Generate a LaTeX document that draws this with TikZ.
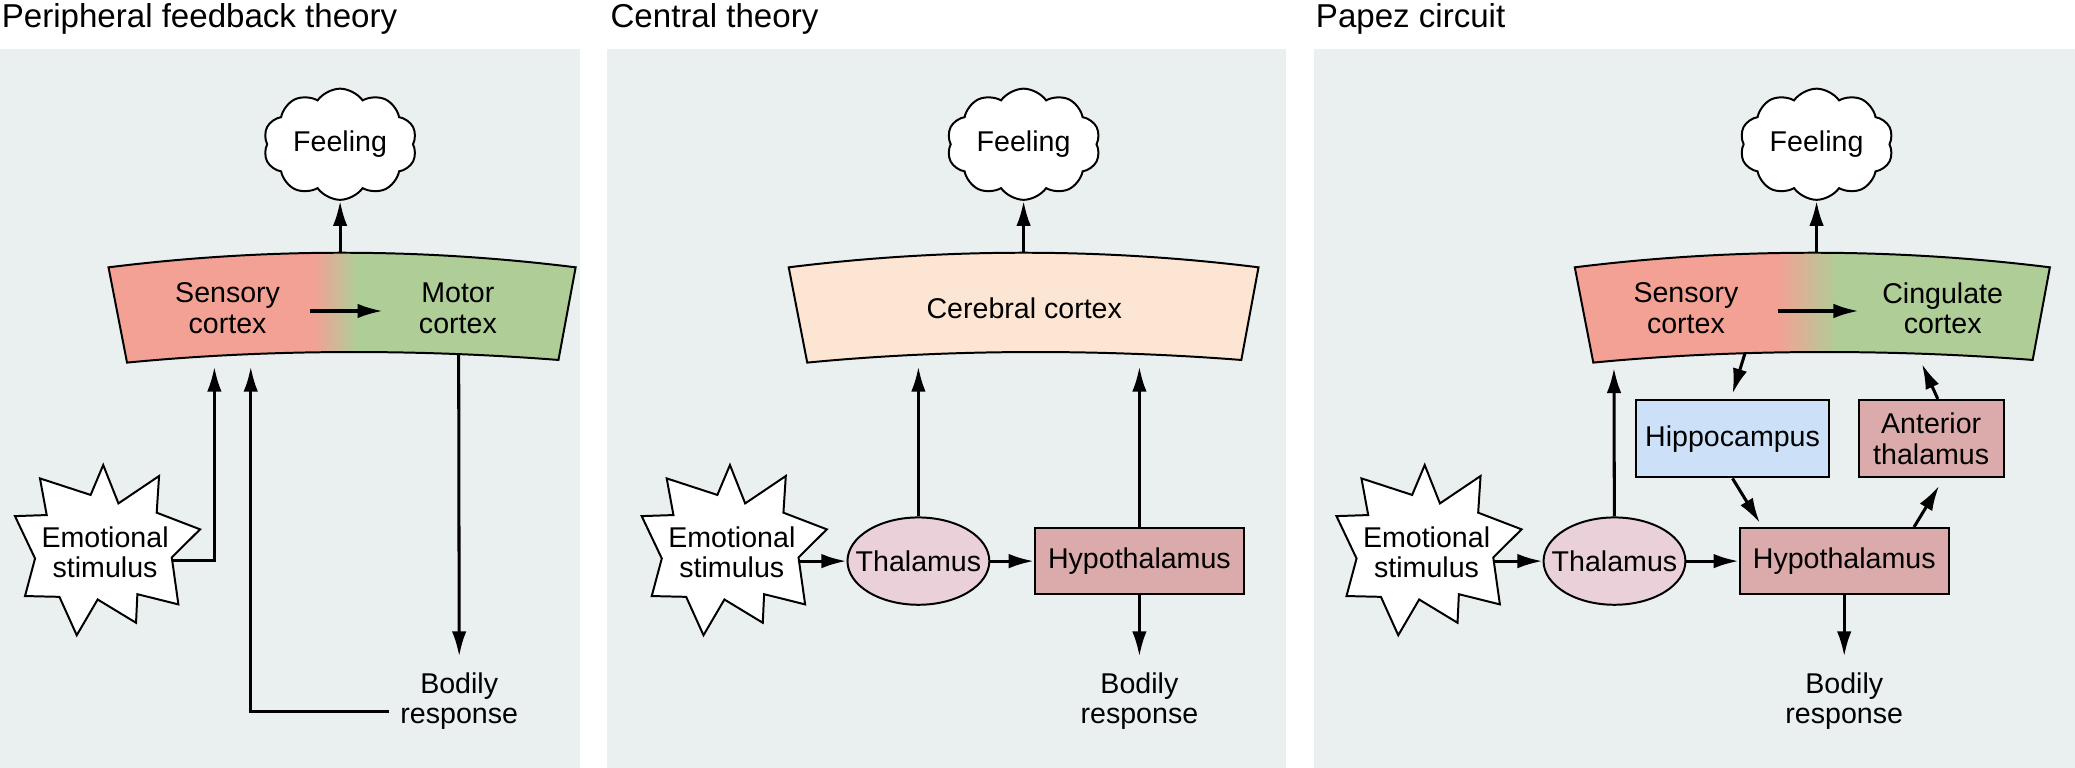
\documentclass[tikz,border=0pt]{standalone}
\usepackage{fontspec}
\setmainfont{Liberation Sans}
\usetikzlibrary{arrows.meta,shapes.geometric,shapes.symbols}

\definecolor{panelbg}{HTML}{EAF0F0}
\definecolor{sensred}{HTML}{F3A195}
\definecolor{motgreen}{HTML}{AFCD96}
\definecolor{cerebral}{HTML}{FDE5D3}
\definecolor{thalpink}{HTML}{EAD0D8}
\definecolor{hypored}{HTML}{DBAAAA}
\definecolor{hippoblue}{HTML}{CCE0F8}

\newcommand{\labelfont}{\fontsize{10.8}{11.5}\selectfont}
\newcommand{\tight}[1]{\makebox[0pt]{#1}}

% band shaped cortex, left and right top corners
\newcommand{\cortex}[2]{(#1,202) .. controls ({#1+118},187.3) and ({#2-118},187.3) .. (#2,202)
  -- ({#2-13},272) .. controls ({#2-120},263.7) and ({#1+120},263.7) .. ({#1+14},274) -- cycle}

% emotional stimulus star round a centre
\newcommand{\burst}[1]{%
  \draw[burstline, shift={(#1)}] (-1.4,-66.1) -- (10.1,-37.1) -- (40.8,-57.8) -- (39,-30.1)
    -- (71.8,-17.5) -- (50.4,3.7) -- (55.4,39.2) -- (24.4,31.5) -- (23.4,53.1) -- (-5.6,35.5)
    -- (-21.4,62.5) -- (-34.5,33.5) -- (-60.5,32.9) -- (-52.9,4.5) -- (-68.1,-27.5)
    -- (-44.1,-28.3) -- (-49.2,-56) -- (-10.9,-43.5) -- cycle;}

\tikzset{
  arr/.style={line width=1.15pt, -{Latex[length=9.5pt,width=5.5pt]}},
  outline/.style={draw=black, line width=0.75pt},
  burstline/.style={outline, fill=white},
  lbl/.style={align=center, font=\labelfont, inner sep=1pt},
  body/.style={lbl, inner ysep=6pt},
  title/.style={anchor=base west, inner sep=0pt, font=\fontsize{12.5}{14}\selectfont},
  feel/.style={cloud, cloud puffs=10, cloud puff arc=110, aspect=1.4, outline, fill=white,
    minimum width=58pt, minimum height=42pt, inner sep=0pt, font=\labelfont},
  thal/.style={ellipse, outline, fill=thalpink, minimum width=53.6pt, minimum height=33pt,
    inner sep=0pt, font=\labelfont},
  hypo/.style={rectangle, outline, fill=hypored, minimum width=79pt, minimum height=25pt,
    inner sep=0pt, font=\labelfont},
  hippo/.style={rectangle, outline, fill=hippoblue, minimum width=72.8pt, minimum height=29.3pt,
    inner sep=0pt, font=\labelfont},
  ant/.style={rectangle, outline, fill=hypored, minimum width=54.8pt, minimum height=29.3pt,
    inner sep=0pt, align=center, font=\labelfont},
}

\begin{document}
\begin{tikzpicture}[x=0.5pt, y=-0.5pt]
  \useasboundingbox (0,0) rectangle (1568,580);
  \foreach \xa/\xb in {0/438, 459/972, 993/1568}
    \fill[panelbg] (\xa,37) rectangle (\xb,580);

  % Peripheral feedback theory
  \node[title] (tA) at (1,21) {Peripheral feedback theory};
  \begin{scope}
    \clip \cortex{82}{435};
    \fill[sensred] (70,180) rectangle (238,290);
    \shade[left color=sensred, right color=motgreen] (237,180) rectangle (270,290);
    \fill[motgreen] (269,180) rectangle (450,290);
  \end{scope}
  \draw[outline] \cortex{82}{435};
  \node[feel] (feelA) at (257,109) {\tight{Feeling}};
  \coordinate (ctopA) at (257,191);
  \node[lbl] (senA) at (172,233) {Sensory\\cortex};
  \node[lbl] (motA) at (346,233) {Motor\\cortex};
  \coordinate (stA) at (79.4,417.5);
  \burst{stA}
  \node[lbl] (stimA) at (stA) {Emotional\\stimulus};
  \node[body] (bodyA) at (347,530) {Bodily\\response};
  \coordinate (inA) at (162,277);
  \coordinate (fbA) at (189.5,277);
  \coordinate (outA) at (346.6,268);

  \draw[arr] (ctopA) -- (feelA.south);
  \draw[arr] ([xshift=10.3pt,yshift=-1pt]senA.east) -- ([xshift=-12.5pt,yshift=-1pt]motA.west);
  \draw[arr] ([yshift=-3pt]stimA.east) -| (inA);
  \draw[arr] ([xshift=-3pt,yshift=-4pt]bodyA.west) -| (fbA);
  \draw[arr] (outA) -- (bodyA.north);

  % Central theory
  \node[title] (tB) at (461,21) {Central theory};
  \filldraw[outline, fill=cerebral] \cortex{596}{951};
  \node[feel] (feelB) at (773.5,109) {\tight{Feeling}};
  \coordinate (ctopB) at (773.5,191);
  \node[lbl] (cereB) at (774,233) {Cerebral cortex};
  \coordinate (stB) at (553,417.5);
  \burst{stB}
  \node[lbl] (stimB) at (stB) {Emotional\\stimulus};
  \node[thal] (thalB) at (694,424) {\tight{Thalamus}};
  \node[hypo] (hypB) at (861,424) {Hypothalamus};
  \node[body] (bodyB) at (861,530) {Bodily\\response};
  \coordinate (upB1) at (694,277);
  \coordinate (upB2) at (861,277);

  \draw[arr] (ctopB) -- (feelB.south);
  \draw[arr] (stimB.east |- thalB.west) -- (thalB.west);
  \draw[arr] (thalB) -- (hypB);
  \draw[arr] (thalB) -- (upB1);
  \draw[arr] (hypB) -- (upB2);
  \draw[arr] (hypB) -- (bodyB);

  % Papez circuit
  \node[title] (tC) at (994,21) {Papez circuit};
  \begin{scope}
    \clip \cortex{1190}{1549};
    \fill[sensred] (1180,180) rectangle (1344,290);
    \shade[left color=sensred, right color=motgreen] (1343,180) rectangle (1389,290);
    \fill[motgreen] (1388,180) rectangle (1560,290);
  \end{scope}
  \draw[outline] \cortex{1190}{1549};
  \node[feel] (feelC) at (1372.7,109) {\tight{Feeling}};
  \coordinate (ctopC) at (1372.7,191);
  \node[lbl] (senC) at (1274,233) {Sensory\\cortex};
  \node[lbl] (cingC) at (1468,233) {Cingulate\\cortex};
  \coordinate (stC) at (1078,417.5);
  \burst{stC}
  \node[lbl] (stimC) at (stC) {Emotional\\stimulus};
  \node[thal] (thalC) at (1220,424) {\tight{Thalamus}};
  \node[hypo] (hypC) at (1393.6,424) {Hypothalamus};
  \node[hippo] (hipC) at (1309.2,331.5) {Hippocampus};
  \node[ant] (antC) at (1459.3,331.5) {Anterior\\thalamus};
  \node[body] (bodyC) at (1393.6,530) {Bodily\\response};
  \coordinate (upC) at (1219.6,278);
  \coordinate (hipinC) at (1318.6,267);
  \coordinate (antoutC) at (1452.3,275);

  \draw[arr] (ctopC) -- (feelC.south);
  \draw[arr] ([xshift=13.8pt,yshift=-1pt]senC.east) -- ([xshift=-7.75pt,yshift=-1pt]cingC.west);
  \draw[arr] (stimC.east |- thalC.west) -- (thalC.west);
  \draw[arr] (thalC) -- (hypC);
  \draw[arr] (thalC) -- (upC);
  \draw[arr] (hipinC) -- ([yshift=2pt]hipC.north);
  \draw[arr] (hipC.south) -- ([xshift=8pt,yshift=1.5pt]hypC.north west);
  \draw[arr] ([xshift=-13.5pt]hypC.north east) -- ([xshift=3pt,yshift=-2.75pt]antC.south);
  \draw[arr] ([xshift=2.5pt]antC.north) -- (antoutC);
  \draw[arr] (hypC) -- (bodyC);
\end{tikzpicture}
\end{document}
